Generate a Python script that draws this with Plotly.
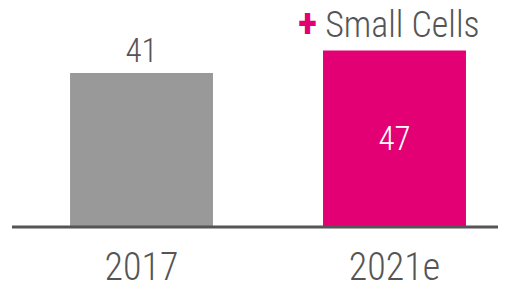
import plotly.graph_objects as go

categories = ["2017", "2021e"]
values = [41, 47]
value_labels = ["41", "47"]
bar_colors = ["#999999", "#E20074"]
text_positions = ["outside", "inside"]
text_colors = ["#555555", "#FFFFFF"]
note_text = "<b><span style='color:#E20074;font-size:40px'>+</span></b> Small Cells"

FONT = "Roboto Condensed, Liberation Sans, sans-serif"
W = 300

fig = go.Figure()
fig.add_trace(go.Bar(
    x=[0, 1],
    y=values,
    width=0.565,
    marker=dict(color=bar_colors, line=dict(width=0)),
    text=value_labels,
    textposition=text_positions,
    insidetextanchor="middle",
    textfont=dict(family=FONT, size=33, color=text_colors, weight=W),
    outsidetextfont=dict(family=FONT, size=33, color="#555555", weight=W),
    insidetextfont=dict(family=FONT, size=33, color="#FFFFFF", weight=W),
    constraintext="none",
    cliponaxis=False,
    hoverinfo="skip",
))

fig.add_annotation(
    x=1, y=values[1], xref="x", yref="y",
    text=note_text, showarrow=False,
    xanchor="center", yanchor="bottom", xshift=-6, yshift=1,
    font=dict(family=FONT, size=36, color="#555555", weight=W),
)

fig.add_shape(type="line", xref="paper", yref="paper", x0=0, x1=1, y0=0, y1=0,
              line=dict(color="#555555", width=3))

# page body has an 8px margin, so the figure is drawn 8px in from the corner
fig.update_layout(
    width=498, height=280,
    margin=dict(l=4, r=6, t=0, b=61, autoexpand=False),
    paper_bgcolor="white", plot_bgcolor="white",
    showlegend=False,
    xaxis=dict(
        range=[-0.5119, 1.417],
        tickmode="array", tickvals=[0, 1], ticktext=categories,
        showgrid=False, zeroline=False, showline=False, ticks="",
        tickfont=dict(family=FONT, size=38, color="#555555", weight=W),
        ticklabelstandoff=14,
        automargin=False,
        fixedrange=True,
    ),
    yaxis=dict(
        range=[0, 58.3], visible=False, showgrid=False, zeroline=False,
        automargin=False,
        fixedrange=True,
    ),
)

fig.write_html("out.html")
